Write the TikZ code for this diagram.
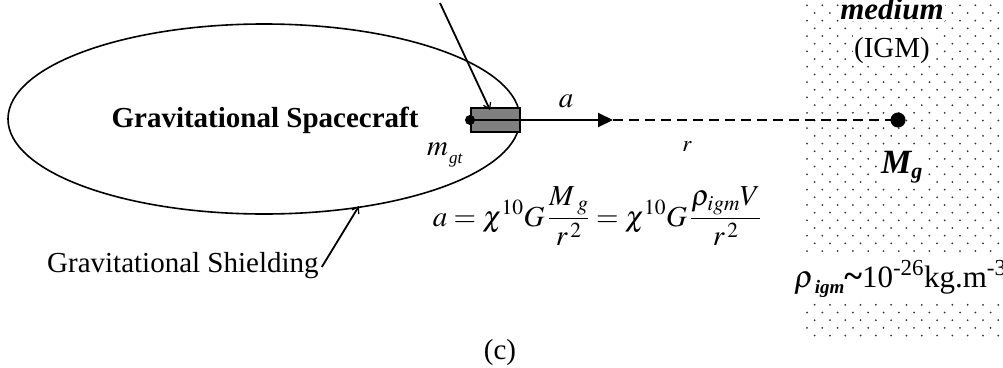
\documentclass[tikz,border=0pt]{standalone}
\usepackage{mathptmx}
\usepackage{fontspec}
\setmainfont{Liberation Serif}
\usetikzlibrary{arrows.meta}
\tikzset{
  txt/.style={inner sep=0pt, font=\fontsize{29}{34}\selectfont},
  wbg/.style={fill=white, inner sep=1.5pt},
  outline/.style={line width=1.6pt},
  barb/.style={line width=1.8pt, -{Straight Barb[length=6pt,width=8pt,line width=1.2pt]}},
  mainarrow/.style={line width=2pt, -{Triangle[length=15pt,width=14pt]}},
  dashline/.style={line width=2.2pt, dash pattern=on 10pt off 6pt},
  bigdot/.style={circle, fill=black, inner sep=0pt},
  pdot/.style={fill=black!80}
}
\begin{document}
\begin{tikzpicture}[x=1pt,y=-1pt]
\useasboundingbox (0,0) rectangle (1003,367);
% dotted medium
\foreach \k in {0,...,43}{
  \pgfmathsetmacro{\yy}{5.3+7.68*\k}
  \pgfmathsetmacro{\xo}{mod(\k,2)==0 ? 807 : 814.65}
  \foreach \i in {0,...,12}{
    \pgfmathsetmacro{\xx}{\xo+15.3*\i}
    \ifdim \xx pt < 1003pt
      \fill[pdot] (\xx,\yy) circle (1.0);
    \fi
  }
}
% spacecraft ellipse
\draw[outline] (264,119) ellipse [x radius=256, y radius=95];
\node[txt, anchor=base, font=\fontsize{29}{34}\selectfont\bfseries] (title) at (265,127) {Gravitational Spacecraft};
% gravitational box
\node[draw, line width=2pt, fill=black!50, minimum width=49pt, minimum height=24pt, inner sep=0pt, anchor=west] (box) at (470,120) {};
\node[bigdot, minimum size=10pt] (m) at (470,120) {};
\node[bigdot, minimum size=15pt] (Mdot) at (898,120) {};
\coordinate (tip) at (613,120);
\draw[mainarrow] (m.center) -- (tip);
\draw[dashline] (tip) -- (Mdot.center);
% labels
\node[txt, anchor=base west] (mgt) at (427,155) {$m$};
\node[txt, anchor=base west, font=\fontsize{17}{20}\selectfont\itshape] (gt) at (449,163) {gt};
\node[txt, anchor=base] (alab) at (566,107) {$a$};
\node[txt, anchor=base, font=\fontsize{23}{26}\selectfont] (rlab) at (687,151) {$r$};
% top pointer
\coordinate (topstart) at (440,3);
\coordinate (boxtip) at (490,110);
\draw[barb] (topstart) -- (boxtip);
% shielding
\node[txt, anchor=base west] (shield) at (47,272) {Gravitational Shielding};
\coordinate (shieldtip) at (359,206);
\draw[barb] (shield.base east) ++(3,-5) coordinate (sstart) -- (shieldtip);
% equation
\node[txt, anchor=base] (eq) at (597,226) {$\displaystyle a=\chi^{10}G\,\frac{M_{\;g}}{r^{\,2}}=\chi^{10}G\,\frac{\rho_{igm}V}{r^{\,2}}$};
% medium texts
\node[wbg, anchor=base, font=\fontsize{31}{34}\selectfont\bfseries\itshape] (med) at (892,19) {medium};
\node[wbg, anchor=base, font=\fontsize{29}{34}\selectfont] (igm) at (892,57) {(IGM)};
\node[wbg, anchor=base west, inner sep=1pt, font=\fontsize{34}{38}\selectfont\bfseries\itshape] (Mg) at (880,173) {M\raisebox{-5pt}{\fontsize{22}{24}\selectfont g}};
% rho line band
\fill[white] (804,257) rectangle (1003,301);
\node[txt, anchor=base west, font=\fontsize{31}{34}\selectfont] (rho) at (794,287) {$\rho$\kern1pt\raisebox{-6pt}{\fontsize{19}{22}\selectfont\bfseries\itshape igm}{\bfseries\fontsize{34}{34}\selectfont\char`\~}10\textsuperscript{-26}kg.m\textsuperscript{-3}};
% caption
\node[txt, anchor=base] (cap) at (500,359) {(c)};
\end{tikzpicture}
\end{document}
